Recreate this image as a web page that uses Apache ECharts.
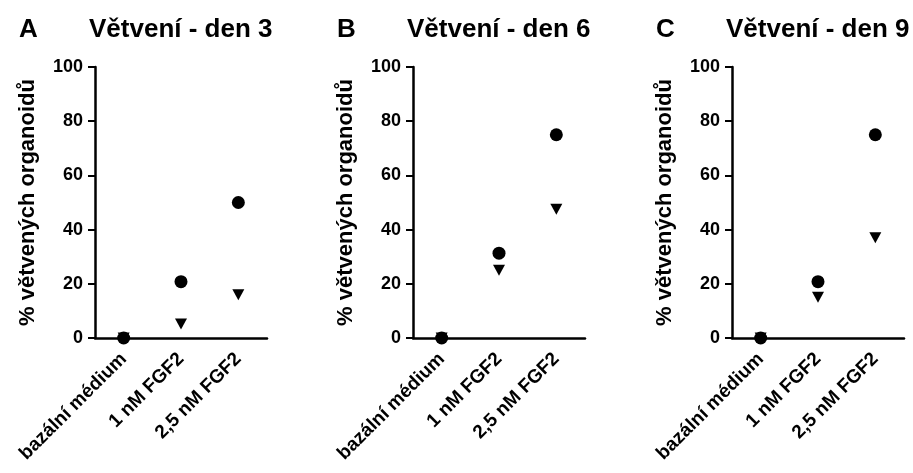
<!DOCTYPE html>
<html>
<head>
<meta charset="utf-8">
<script src="https://cdn.jsdelivr.net/npm/echarts@6/dist/echarts.min.js"></script>
<style>
  html, body { margin: 0; padding: 0; background: #fff; }
  #main { width: 913px; height: 473px; }
</style>
</head>
<body>
<div id="main"></div>
<script>
// data
var categories = ['bazální médium', '1 nM FGF2', '2,5 nM FGF2'];
var panelLetters = ['A', 'B', 'C'];
var panelTitles = ['Větvení - den 3', 'Větvení - den 6', 'Větvení - den 9'];
var circlesA = [0, 20.8, 50];
var trianglesA = [0, 5.2, 16];
var circlesB = [0, 31.3, 75];
var trianglesB = [0, 25, 47.5];
var circlesC = [0, 20.8, 75];
var trianglesC = [0, 15, 37];
var yTicks = [0, 20, 40, 60, 80, 100];

var circles = [circlesA, circlesB, circlesC];
var triangles = [trianglesA, trianglesB, trianglesC];

var font = 'Liberation Sans, Arial, sans-serif';
var gridLefts = [95, 413, 732]; // levá osa každého panelu
var gridWidth = 172;

var chart = echarts.init(document.getElementById('main'));

var title = [], grid = [], xAxis = [], yAxis = [], series = [];
for (var i = 0; i < 3; i++) {
    title.push({
        text: panelLetters[i],
        left: gridLefts[i] - 81,
        top: 12,
        textStyle: { fontFamily: font, fontWeight: 'bold', fontSize: 26, color: '#000' }
    });
    title.push({
        text: panelTitles[i],
        left: gridLefts[i] - 11,
        top: 12,
        textStyle: { fontFamily: font, fontWeight: 'bold', fontSize: 26, color: '#000' }
    });
    grid.push({ left: gridLefts[i], top: 67, width: gridWidth, height: 271 });
    xAxis.push({
        type: 'category',
        gridIndex: i,
        data: categories,
        boundaryGap: true,
        axisLine: { lineStyle: { color: '#000', width: 2.5 } },
        axisTick: { alignWithLabel: true, length: 7, lineStyle: { color: '#000', width: 2 } },
        axisLabel: {
            rotate: 45, interval: 0, margin: 18,
            fontFamily: font, fontWeight: 'bold', fontSize: 19, color: '#000'
        },
        splitLine: { show: false }
    });
    yAxis.push({
        type: 'value',
        gridIndex: i,
        min: yTicks[0],
        max: yTicks[yTicks.length - 1],
        interval: 20,
        name: '% větvených organoidů',
        nameLocation: 'middle',
        nameGap: 56,
        nameTextStyle: { fontFamily: font, fontWeight: 'bold', fontSize: 22, color: '#000' },
        axisLine: { show: true, lineStyle: { color: '#000', width: 2.5 } },
        axisTick: { show: true, length: 7, lineStyle: { color: '#000', width: 2 } },
        axisLabel: { margin: 12, fontFamily: font, fontWeight: 'bold', fontSize: 18, color: '#000' },
        splitLine: { show: false }
    });
    // trojúhelníky pod kolečky
    series.push({
        type: 'scatter',
        xAxisIndex: i,
        yAxisIndex: i,
        symbol: 'triangle',
        symbolRotate: 180,
        symbolSize: [12, 11],
        itemStyle: { color: '#000', opacity: 1 },
        data: triangles[i]
    });
    series.push({
        type: 'scatter',
        xAxisIndex: i,
        yAxisIndex: i,
        symbol: 'circle',
        symbolSize: 13,
        itemStyle: { color: '#000', opacity: 1 },
        data: circles[i]
    });
}

chart.setOption({
    animation: false,
    title: title,
    grid: grid,
    xAxis: xAxis,
    yAxis: yAxis,
    series: series
});
</script>
</body>
</html>
